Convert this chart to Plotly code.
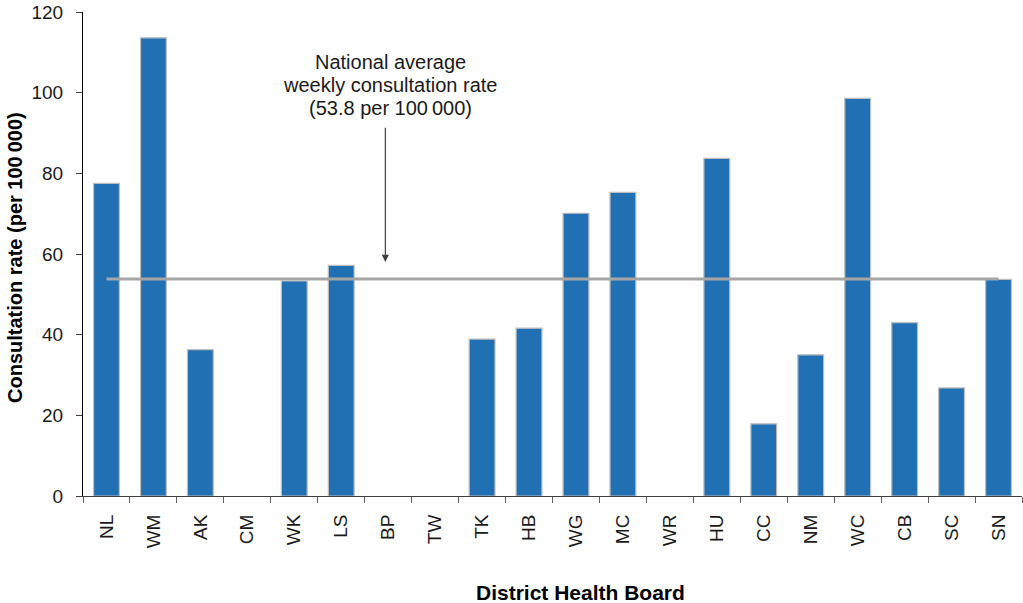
import plotly.graph_objects as go

categories = ["NL", "WM", "AK", "CM", "WK", "LS", "BP", "TW", "TK", "HB",
              "WG", "MC", "WR", "HU", "CC", "NM", "WC", "CB", "SC", "SN"]
rates = [77.5, 113.6, 36.3, 0, 53.3, 57.2, 0, 0, 38.9, 41.6,
         70.1, 75.3, 0, 83.7, 17.9, 35.0, 98.6, 43.0, 26.8, 53.7]
national_average = 53.8
y_ticks = [0, 20, 40, 60, 80, 100, 120]
note_lines = ["National average", "weekly consultation rate", "(53.8 per 100\u2009000)"]

FONT = "Liberation Sans, Arial, sans-serif"
W, H = 1023, 603
L, R, T, B = 83, 1, 12, 107
PW, PH = W - L - R, H - T - B

def px_x(x):
    return (x - L) / PW

def px_y(y):
    return (H - B - y) / PH

fig = go.Figure()
fig.add_trace(go.Bar(
    x=categories, y=rates, width=0.55,
    marker=dict(color="#2270B4",
                line=dict(color="#BEBEBE", width=[1.2 if v > 0 else 0 for v in rates])),
    showlegend=False, hoverinfo="x+y",
))
fig.add_trace(go.Scatter(
    x=[categories[0], categories[-1]], y=[national_average, national_average],
    mode="lines", line=dict(color="#A6A6A6", width=3), showlegend=False,
))

# arrow
fig.add_annotation(
    x=5.94, y=58.0, ax=5.94, ay=91.7, xref="x", yref="y", axref="x", ayref="y",
    text="", showarrow=True, arrowhead=2, arrowsize=1.2, arrowwidth=1.2,
    arrowcolor="#404040",
)
# note text
for line, ypx in zip(note_lines, [62, 85, 108]):
    fig.add_annotation(
        x=px_x(390), y=px_y(ypx), xref="paper", yref="paper",
        text=line, showarrow=False, xanchor="center", yanchor="middle",
        font=dict(family=FONT, size=20, color="#1a1a1a"),
    )
# axis titles
fig.add_annotation(
    x=px_x(580), y=px_y(592), xref="paper", yref="paper",
    text="<b>District Health Board</b>", showarrow=False,
    xanchor="center", yanchor="middle",
    font=dict(family=FONT, size=21, color="#000"),
)
fig.add_annotation(
    x=px_x(15), y=px_y(258), xref="paper", yref="paper",
    text="<b>Consultation rate (per 100\u2009000)</b>", showarrow=False,
    textangle=-90, xanchor="center", yanchor="middle",
    font=dict(family=FONT, size=20, color="#000"),
)

fig.update_layout(
    width=W, height=H,
    margin=dict(l=L, r=R, t=T, b=B, autoexpand=False),
    paper_bgcolor="white", plot_bgcolor="white",
    font=dict(family=FONT, color="#1a1a1a"),
)
fig.update_xaxes(
    type="category", range=[-0.5, 19.5], automargin=False,
    tickangle=-90, tickfont=dict(family=FONT, size=19, color="#1a1a1a"),
    ticklabelstandoff=10,
    showline=True, linecolor="#404040", linewidth=1,
    ticks="outside", tickson="boundaries", ticklen=6, tickcolor="#606060",
    showgrid=False,
)
fig.update_yaxes(
    range=[0, 120], tickvals=y_ticks, automargin=False,
    tickfont=dict(family=FONT, size=19, color="#1a1a1a"),
    ticklabelstandoff=9,
    showline=True, linecolor="#000", linewidth=1,
    ticks="outside", ticklen=6, tickcolor="#404040",
    showgrid=False, zeroline=False,
)

fig.write_html(
    "out.html",
    config={"displayModeBar": False},
    post_script="document.body.style.margin='0';document.body.style.overflow='hidden';",
)
